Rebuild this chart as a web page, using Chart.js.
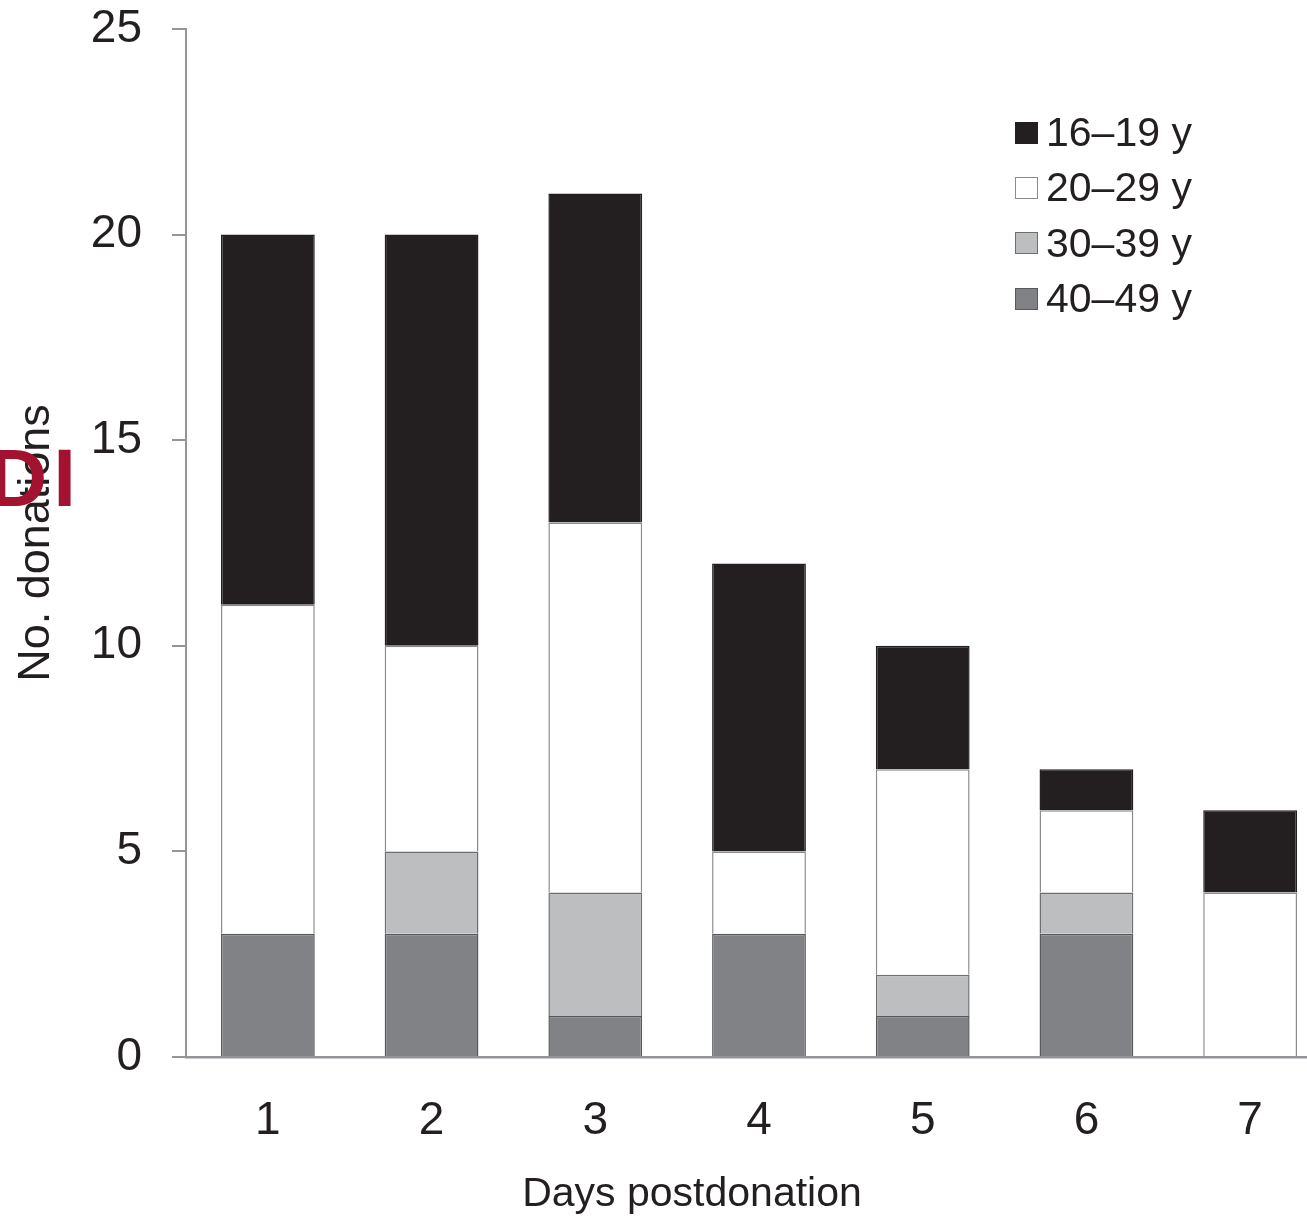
<!DOCTYPE html>
<html>
<head>
<meta charset="utf-8">
<title>Donations by day postdonation</title>
<script src="https://cdn.jsdelivr.net/npm/chart.js@4.4.1/dist/chart.umd.min.js"></script>
<style>
  html, body { margin: 0; padding: 0; background: #fff; overflow: hidden; }
  #wrap { position: relative; width: 1340px; height: 1217px; }
  #chart { position: absolute; left: 0; top: 0; }
  .txt { font-family: "Liberation Sans", Arial, sans-serif; color: #231f20; }
  #xtitle { position: absolute; left: 392px; top: 1168px; width: 600px; text-align: center; font-size: 41px; line-height: 48px; }
  #legend { position: absolute; left: 1015px; top: 105px; font-size: 41px; }
  .row { height: 55.3px; display: flex; align-items: center; white-space: nowrap; }
  .sw { width: 23px; height: 22px; box-sizing: border-box; border: 1.5px solid; margin-right: 8px; }
  #mark { position: absolute; left: -12px; top: 437px; font: bold 82px/82px "Liberation Sans", Arial, sans-serif; color: #a31230; letter-spacing: 6px; }
</style>
</head>
<body>
<div id="wrap">
  <canvas id="chart" width="1340" height="1217"></canvas>
  <div id="xtitle" class="txt">Days postdonation</div>
  <div id="legend" class="txt"></div>
  <div id="mark">DI</div>
</div>
<script>
// data
const days = ['1', '2', '3', '4', '5', '6', '7'];
const age16to19 = [9, 10, 8, 7, 3, 1, 2];
const age20to29 = [8, 5, 9, 2, 5, 2, 4];
const age30to39 = [0, 2, 3, 0, 1, 1, 0];
const age40to49 = [3, 3, 1, 3, 1, 3, 0];
const yTicks = [0, 5, 10, 15, 20, 25];

const textColor = '#231f20';
const axisColor = '#939598';
const fontFamily = '"Liberation Sans", Arial, sans-serif';

// bottom of the stack first
const series = [
  { label: '40–49 y', data: age40to49, fill: '#808285', line: '#58595b' },
  { label: '30–39 y', data: age30to39, fill: '#bcbec0', line: '#6d6e71' },
  { label: '20–29 y', data: age20to29, fill: '#ffffff', line: '#8a8b8e' },
  { label: '16–19 y', data: age16to19, fill: '#231f20', line: '#231f20' }
];

const ctx = document.getElementById('chart').getContext('2d');
const chart = new Chart(ctx, {
  type: 'bar',
  data: {
    labels: days,
    datasets: series.map(s => ({
      label: s.label,
      data: s.data,
      backgroundColor: s.fill,
      borderColor: s.line,
      borderWidth: 1.5,
      barPercentage: 0.573,
      categoryPercentage: 1
    }))
  },
  options: {
    responsive: false,
    animation: false,
    devicePixelRatio: 1,
    layout: { padding: { top: 29, right: 8, bottom: 0, left: 0 } },
    plugins: {
      legend: { display: false },
      tooltip: { enabled: false }
    },
    scales: {
      x: {
        stacked: true,
        afterFit: s => { s.height = 160; },
        grid: { display: false, drawTicks: false },
        border: { display: true, color: axisColor, width: 2.5 },
        ticks: { padding: 37, color: textColor, font: { size: 46, family: fontFamily } }
      },
      y: {
        stacked: true,
        min: 0,
        max: 25,
        afterFit: s => { s.width = 186; s.paddingTop = 0; s.paddingBottom = 0; },
        afterBuildTicks: s => { s.ticks = yTicks.map(v => ({ value: v })); },
        grid: { display: true, drawOnChartArea: false, drawTicks: true, tickLength: 14, color: axisColor, lineWidth: 2 },
        border: { display: true, color: axisColor, width: 2 },
        ticks: { padding: 30, color: textColor, font: { size: 46, family: fontFamily } },
        title: {
          display: true,
          text: 'No. donations',
          color: textColor,
          font: { size: 45, family: fontFamily },
          padding: { top: 10, bottom: 0 }
        }
      }
    }
  }
});

// legend, top of the stack first
const legendDiv = document.getElementById('legend');
series.slice().reverse().forEach(s => {
  const row = document.createElement('div');
  row.className = 'row';
  const sw = document.createElement('span');
  sw.className = 'sw';
  sw.style.backgroundColor = s.fill;
  sw.style.borderColor = s.line;
  row.appendChild(sw);
  row.appendChild(document.createTextNode(s.label));
  legendDiv.appendChild(row);
});
</script>
</body>
</html>
